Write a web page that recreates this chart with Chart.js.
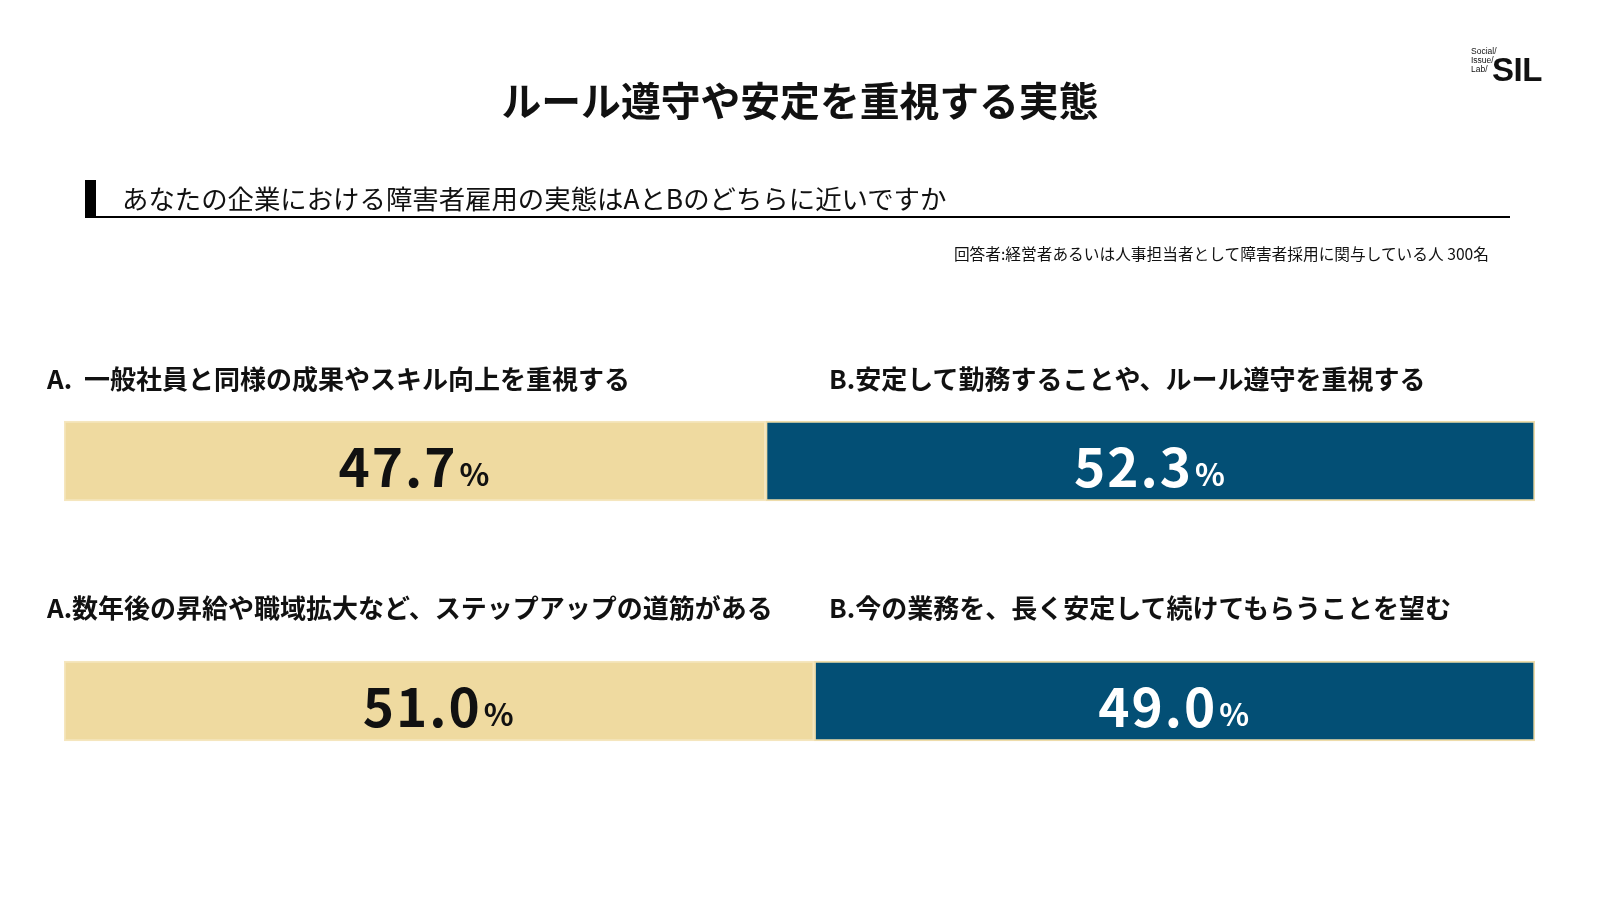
<!DOCTYPE html>
<html lang="ja">
<head>
<meta charset="utf-8">
<script src="https://cdn.jsdelivr.net/npm/chart.js@4"></script>
<style>
  html,body{margin:0;padding:0;background:#fff;}
  body{width:1600px;height:900px;position:relative;overflow:hidden;font-family:"Noto Sans CJK JP","Noto Sans",sans-serif;color:#111;}
  #title{position:absolute;left:0;width:1600px;top:72px;text-align:center;font-size:39.8px;font-weight:700;line-height:54px;}
  #qbar{position:absolute;left:85px;top:180px;width:11px;height:37px;background:#000;}
  #qline{position:absolute;left:85px;top:216px;width:1425px;height:1.5px;background:#000;}
  #question{position:absolute;left:122px;top:181px;font-size:26.4px;font-weight:400;line-height:34px;}
  #note{position:absolute;right:111px;top:243px;font-size:15.7px;line-height:22px;}
  .rowlab{position:absolute;font-size:26px;font-weight:700;line-height:36px;white-space:pre;}
  #logo{position:absolute;left:1471px;top:46px;width:100px;height:40px;}
  #logo .small{position:absolute;left:0;top:1px;font-family:"Liberation Sans",Arial,sans-serif;font-size:8.5px;line-height:9px;}
  #logo .big{position:absolute;left:21px;top:7px;font-family:"Liberation Sans",Arial,sans-serif;font-weight:700;font-size:33px;line-height:34px;letter-spacing:-0.5px;}
  #wrap{position:absolute;left:0;top:0;width:1600px;height:900px;}
</style>
</head>
<body>
<div id="wrap"><canvas id="c" width="1600" height="900"></canvas></div>
<div id="title">ルール遵守や安定を重視する実態</div>
<div id="qbar"></div>
<div id="question">あなたの企業における障害者雇用の実態はAとBのどちらに近いですか</div>
<div id="qline"></div>
<div id="note">回答者:経営者あるいは人事担当者として障害者採用に関与している人 300名</div>
<div id="logo"><div class="small">Social/<br>Issue/<br>Lab/</div><div class="big">SIL</div></div>
<div class="rowlab" id="la0" style="left:47px;top:360px;"></div>
<div class="rowlab" id="lb0" style="left:829px;top:360px;"></div>
<div class="rowlab" id="la1" style="left:47px;top:589px;"></div>
<div class="rowlab" id="lb1" style="left:829px;top:589px;"></div>
<script>
const categories = ["Q1", "Q2"];
const optionA = ["A.  一般社員と同様の成果やスキル向上を重視する", "A.数年後の昇給や職域拡大など、ステップアップの道筋がある"];
const optionB = ["B.安定して勤務することや、ルール遵守を重視する", "B.今の業務を、長く安定して続けてもらうことを望む"];
const valuesA = [47.7, 51.0];
const valuesB = [52.3, 49.0];

document.getElementById('la0').textContent = optionA[0];
document.getElementById('la1').textContent = optionA[1];
document.getElementById('lb0').textContent = optionB[0];
document.getElementById('lb1').textContent = optionB[1];

const FONT = '"Noto Sans CJK JP","Noto Sans",sans-serif';

const valueLabels = {
  id: 'valueLabels',
  afterDatasetsDraw(chart) {
    const ctx = chart.ctx;
    chart.data.datasets.forEach((ds, di) => {
      const meta = chart.getDatasetMeta(di);
      meta.data.forEach((bar, i) => {
        const v = ds.data[i];
        const left = Math.min(bar.base, bar.x), right = Math.max(bar.base, bar.x);
        const cx = (left + right) / 2;
        const cy = bar.y + 6;
        const num = v.toFixed(1);
        ctx.save();
        ctx.fillStyle = ds.textColor;
        ctx.textBaseline = 'middle';
        ctx.letterSpacing = '2px';
        ctx.font = '700 53px ' + FONT;
        const w1 = ctx.measureText(num).width;
        ctx.font = '700 31px ' + FONT;
        const w2 = ctx.measureText('%').width;
        const start = cx - (w1 + w2 + 2) / 2;
        ctx.font = '700 53px ' + FONT;
        ctx.textAlign = 'left';
        ctx.fillText(num, start, cy);
        ctx.font = '700 31px ' + FONT;
        ctx.fillText('%', start + w1 + 2, cy + 7);
        ctx.restore();
      });
    });
  }
};

new Chart(document.getElementById('c'), {
  type: 'bar',
  data: {
    labels: categories,
    datasets: [
      { label: 'A', data: valuesA, backgroundColor: '#EFDAA0', borderColor: '#F5E6BE', borderWidth: 2, borderSkipped: false, barThickness: 80, textColor: '#111111' },
      { label: 'B', data: valuesB, backgroundColor: '#034F75', borderColor: '#EEDCAA', borderWidth: 2, borderSkipped: false, barThickness: 80, textColor: '#FFFFFF' }
    ]
  },
  options: {
    indexAxis: 'y',
    responsive: false,
    animation: false,
    layout: { padding: { left: 64, right: 65, top: 341, bottom: 79 } },
    scales: {
      x: { stacked: true, min: 0, max: 100, display: false },
      y: { stacked: true, display: false }
    },
    plugins: { legend: { display: false }, tooltip: { enabled: false } }
  },
  plugins: [valueLabels]
});
</script>
</body>
</html>
